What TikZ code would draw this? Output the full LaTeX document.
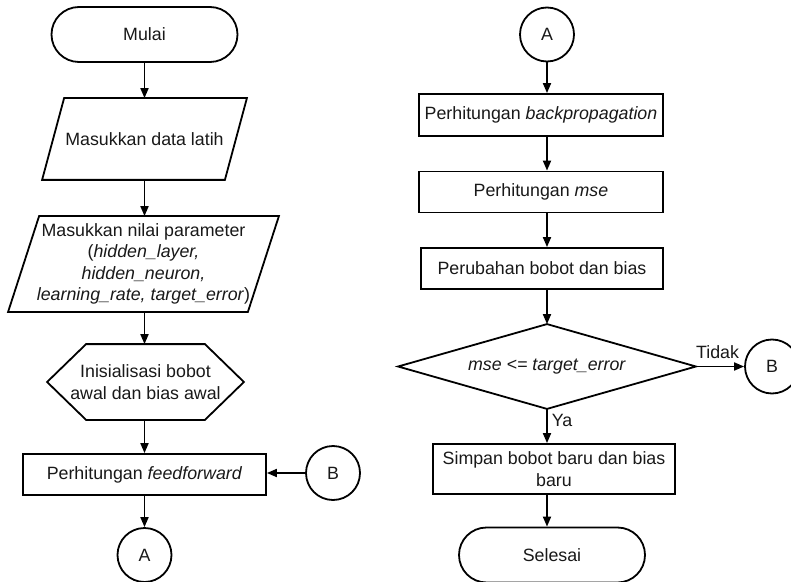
\documentclass[tikz,border=0pt]{standalone}
\usepackage{fontspec}
\setmainfont{Liberation Sans}
\usetikzlibrary{arrows.meta,shapes.misc,calc}
\begin{document}
\begin{tikzpicture}[x=1bp,y=-1bp, line width=1.8bp, line join=miter,
  every node/.style={font=\fontsize{17.8bp}{21.5bp}\selectfont, inner sep=0pt, align=center, text=black!90},
  term/.style={draw, rounded rectangle, minimum width=186bp, minimum height=55bp},
  conn/.style={draw, circle, minimum size=54bp},
  procbox/.style={draw, rectangle},
  ghost/.style={rectangle},
  arr/.style={-{Triangle[length=10bp,width=8bp]}}]
\path[use as bounding box] (0,0) rectangle (791,582);
\fill[white] (0,0) rectangle (791,582);

% ---------- left column ----------
\node[term] (mulai) at (144.5,34.5) {Mulai};

\node[ghost, minimum width=181bp, minimum height=80bp] (data) at (144.5,139) {Masukkan data latih};
\draw ($(data.north west)+(11,0)$) -- ($(data.north east)+(11,0)$) -- ($(data.south east)+(-11,0)$) -- ($(data.south west)+(-11,0)$) -- cycle;

\node[ghost, minimum width=238bp, minimum height=94bp] (param) at (143.5,264)
  {Masukkan nilai parameter\\(\textit{hidden\_layer,}\\\textit{hidden\_neuron,}\\\textit{learning\_rate, target\_error})};
\draw ($(param.north west)+(15.5,0)$) -- ($(param.north east)+(15.5,0)$) -- ($(param.south east)+(-15.5,0)$) -- ($(param.south west)+(-15.5,0)$) -- cycle;

\node[ghost, minimum width=195bp, minimum height=74bp] (init) at (145.5,382) {Inisialisasi bobot\\awal dan bias awal};
\draw (init.west) -- ($(init.north west)+(39,0)$) -- ($(init.north east)+(-39,0)$) -- (init.east) -- ($(init.south east)+(-39,0)$) -- ($(init.south west)+(39,0)$) -- cycle;

\node[procbox, minimum width=243bp, minimum height=41bp] (ff) at (144.5,474.5) {Perhitungan \textit{feedforward}};
\node[conn] (Bl) at (333,473) {B};
\node[conn] (Al) at (144.5,555) {A};

\draw[arr] (mulai.south) -- (mulai.south |- data.north);
\draw[arr] (data.south -| mulai.south) -- (param.north -| mulai.south);
\draw[arr] (param.south -| mulai.south) -- (init.north -| mulai.south);
\draw[arr] (init.south -| mulai.south) -- (ff.north -| mulai.south);
\draw[arr] (Bl.west) -- (ff.east |- Bl.west);
\draw[arr] (ff.south -| mulai.south) -- (Al.north);

% ---------- right column ----------
\node[conn] (Ar) at (547,34.5) {A};
\node[procbox, minimum width=244bp, minimum height=42bp] (bp) at (541,115) {Perhitungan \textit{backpropagation}};
\node[procbox, minimum width=244bp, minimum height=41bp] (mse) at (541,192) {Perhitungan \textit{mse}};
\node[procbox, minimum width=242bp, minimum height=41bp] (ubah) at (542,268.5) {Perubahan bobot dan bias};

\node[ghost, minimum width=296bp, minimum height=83bp] (dia) at (547,366.5) {\textit{mse <= target\_error}};
\draw (dia.west) -- (dia.north) -- (dia.east) -- (dia.south) -- cycle;

\node[conn] (Br) at (772,366.5) {B};
\node[procbox, minimum width=242bp, minimum height=50bp] (simpan) at (554,469) {Simpan bobot baru dan bias\\baru};
\node[term] (selesai) at (552,555) {Selesai};

\draw[arr] (Ar.south) -- (Ar.south |- bp.north);
\draw[arr] (bp.south -| Ar.south) -- (mse.north -| Ar.south);
\draw[arr] (mse.south -| Ar.south) -- (ubah.north -| Ar.south);
\draw[arr] (ubah.south -| Ar.south) -- (dia.north);
\draw[arr] (dia.east) -- (Br.west) node[pos=0.45, above=7bp] (tidak) {Tidak};
\draw[arr] (dia.south) -- (dia.south |- simpan.north) node[pos=0.33, right=4bp] (ya) {Ya};
\draw[arr] (simpan.south -| dia.south) -- (selesai.north -| dia.south);
\end{tikzpicture}
\end{document}
